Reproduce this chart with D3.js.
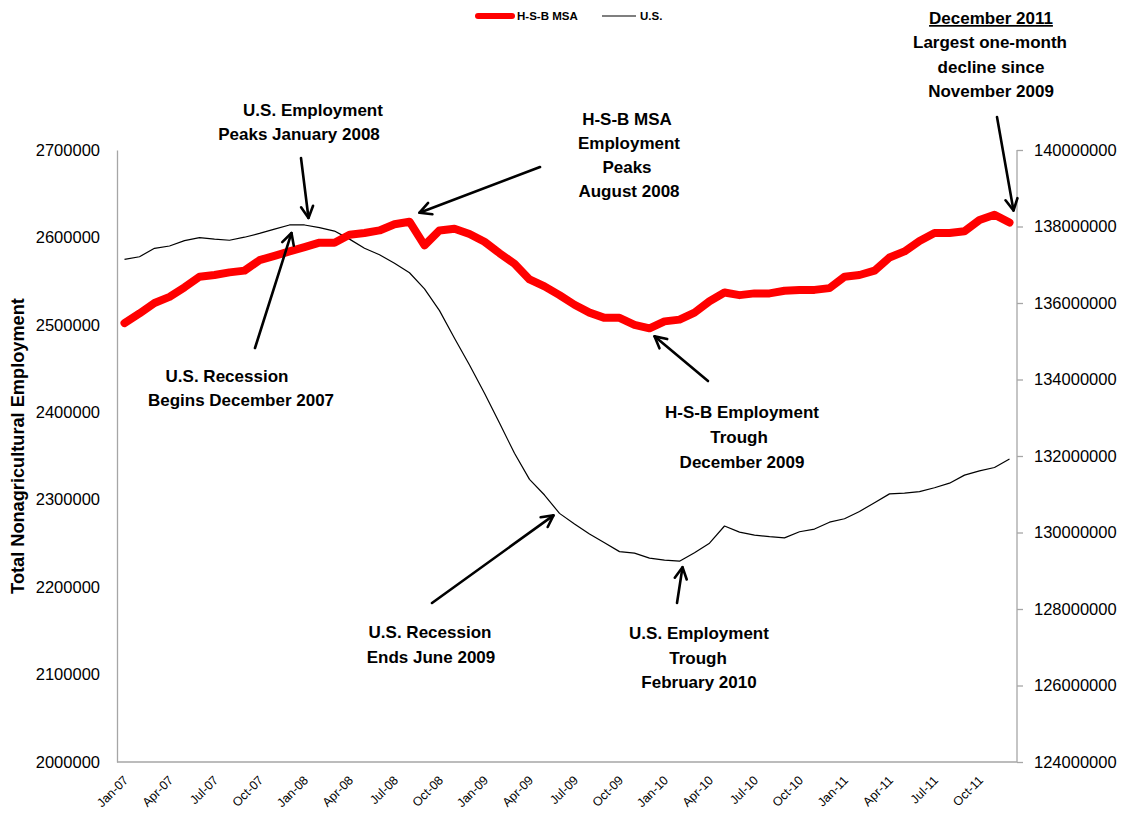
<!DOCTYPE html>
<html><head><meta charset="utf-8">
<script src="https://cdn.jsdelivr.net/npm/d3@7"></script>
<style>
html,body{margin:0;padding:0;background:#fff;}
svg{display:block;font-family:"Liberation Sans",Arial,sans-serif;}
</style></head>
<body>
<svg id="chart" width="1125" height="814"></svg>
<script>
const months = ["Jan-07","Feb-07","Mar-07","Apr-07","May-07","Jun-07","Jul-07","Aug-07","Sep-07","Oct-07","Nov-07","Dec-07",
"Jan-08","Feb-08","Mar-08","Apr-08","May-08","Jun-08","Jul-08","Aug-08","Sep-08","Oct-08","Nov-08","Dec-08",
"Jan-09","Feb-09","Mar-09","Apr-09","May-09","Jun-09","Jul-09","Aug-09","Sep-09","Oct-09","Nov-09","Dec-09",
"Jan-10","Feb-10","Mar-10","Apr-10","May-10","Jun-10","Jul-10","Aug-10","Sep-10","Oct-10","Nov-10","Dec-10",
"Jan-11","Feb-11","Mar-11","Apr-11","May-11","Jun-11","Jul-11","Aug-11","Sep-11","Oct-11","Nov-11","Dec-11"];

const hsbMSA = [2502000,2513000,2525000,2532000,2543000,2555000,2557000,2560000,2562000,2574000,2579000,2584000,
2589000,2594000,2594000,2603000,2605000,2608000,2615000,2618000,2591000,2608000,2610000,2604000,
2595000,2582000,2570000,2552000,2544000,2534000,2523000,2514000,2508000,2508000,2500000,2496000,
2504000,2506000,2514000,2527000,2537000,2534000,2536000,2536000,2539000,2540000,2540000,2542000,
2555000,2557000,2562000,2577000,2584000,2596000,2605000,2605000,2607000,2620000,2626000,2617000];

const usEmp = [137140000,137210000,137430000,137490000,137630000,137710000,137670000,137640000,137720000,137820000,137930000,138040000,
138040000,137970000,137880000,137670000,137430000,137260000,137040000,136790000,136370000,135800000,135080000,134380000,
133640000,132860000,132070000,131390000,130980000,130500000,130220000,129960000,129730000,129500000,129460000,129330000,
129280000,129250000,129470000,129720000,130170000,130010000,129930000,129890000,129860000,130020000,130090000,130270000,
130360000,130550000,130780000,131010000,131030000,131070000,131170000,131290000,131500000,131610000,131700000,131920000];

const leftTicks = [2000000,2100000,2200000,2300000,2400000,2500000,2600000,2700000];
const rightTicks = [124000000,126000000,128000000,130000000,132000000,134000000,136000000,138000000,140000000];
const xTickLabels = months.filter((m,i)=>i%3===0);

const seriesNames = ["H-S-B MSA","U.S."];
const yAxisTitle = "Total Nonagricultural Employment";

const annotations = [
  {lines:["U.S. Employment","Peaks January 2008"], cx:[313,299], y0:116, dy:24, month:"Jan-08", series:"us", tip:[4,-7], tail:[301,158]},
  {lines:["U.S. Recession","Begins December 2007"], cx:[227,241], y0:382, dy:24, month:"Dec-07", series:"us", tip:[2,8], tail:[255,348]},
  {lines:["H-S-B MSA","Employment","Peaks","August 2008"], cx:[627,629,627,629], y0:125, dy:24, month:"Aug-08", series:"hsb", tip:[10,-9], tail:[540,167]},
  {lines:["H-S-B Employment","Trough","December 2009"], cx:[742,739,742], y0:418, dy:25, month:"Dec-09", series:"hsb", tip:[5,8], tail:[708,381]},
  {lines:["U.S. Recession","Ends June 2009"], cx:[430,431], y0:638, dy:25, month:"Jun-09", series:"us", tip:[-6,2], tail:[432,603]},
  {lines:["U.S. Employment","Trough","February 2010"], cx:[699,698,699], y0:639, dy:24.5, month:"Feb-10", series:"us", tip:[3,6], tail:[677,603]},
  {lines:["December 2011","Largest one-month","decline since","November 2009"], cx:[991,990,991,991], y0:24, dy:24.4, month:"Dec-11", series:"hsb", tip:[4,-12], tail:[997,117], underlineFirst:true}
];

const svg = d3.select("#chart");
const L = 117, R = 1017, T = 150, B = 762;

const x = d3.scalePoint().domain(months).range([L, R]).padding(0.5);
const yL = d3.scaleLinear().domain([2000000, 2700000]).range([B, T]);
const yR = d3.scaleLinear().domain([124000000, 140000000]).range([B, T]);

const axisColor = "#a6a6a6";

const gL = svg.append("g").attr("transform", `translate(${L},0)`)
  .call(d3.axisLeft(yL).tickValues(leftTicks).tickSize(0).tickPadding(17).tickFormat(d3.format("d")));
gL.select(".domain").attr("stroke", axisColor).attr("stroke-width", 1.3);
gL.selectAll("text").attr("font-size", 16.5).attr("fill", "#000").attr("font-family", "Liberation Sans, Arial, sans-serif");

const gR = svg.append("g").attr("transform", `translate(${R},0)`)
  .call(d3.axisRight(yR).tickValues(rightTicks).tickSize(6).tickPadding(11).tickFormat(d3.format("d")));
gR.select(".domain").attr("stroke", axisColor).attr("stroke-width", 1.3).attr("d", `M0,${T}V${B}`);
gR.selectAll("line").attr("stroke", axisColor).attr("stroke-width", 1.3);
gR.selectAll("text").attr("font-size", 16.5).attr("fill", "#000").attr("font-family", "Liberation Sans, Arial, sans-serif");

const gB = svg.append("g").attr("transform", `translate(0,${B})`)
  .call(d3.axisBottom(x).tickValues(xTickLabels).tickSize(0).tickPadding(0));
gB.select(".domain").attr("stroke", axisColor).attr("stroke-width", 1.3).attr("d", `M${L},0H${R}`);
gB.selectAll("text")
  .attr("font-size", 12.5).attr("fill", "#000").attr("font-family", "Liberation Sans, Arial, sans-serif")
  .attr("text-anchor", "end").attr("dy", null).attr("y", null)
  .attr("transform", "translate(4,19) rotate(-45)");

svg.append("text")
  .attr("transform", `translate(24,${(T+B)/2 - 10}) rotate(-90)`)
  .attr("text-anchor", "middle")
  .attr("font-size", 18.2).attr("font-weight", "bold")
  .text(yAxisTitle);

const lineL = d3.line().x((d,i)=>x(months[i])).y(d=>yL(d));
const lineR = d3.line().x((d,i)=>x(months[i])).y(d=>yR(d));

svg.append("path").datum(usEmp)
  .attr("d", lineR).attr("fill", "none").attr("stroke", "#000").attr("stroke-width", 1.2)
  .attr("stroke-linejoin", "round");

svg.append("path").datum(hsbMSA)
  .attr("d", lineL).attr("fill", "none").attr("stroke", "#ff0000").attr("stroke-width", 8)
  .attr("stroke-linejoin", "round").attr("stroke-linecap", "round");

const leg = svg.append("g");
leg.append("line").attr("x1", 478).attr("x2", 512).attr("y1", 16).attr("y2", 16)
  .attr("stroke", "#ff0000").attr("stroke-width", 6).attr("stroke-linecap", "round");
leg.append("text").attr("x", 517).attr("y", 20).attr("font-size", 11.5).attr("font-weight", "bold").text(seriesNames[0]);
leg.append("line").attr("x1", 602).attr("x2", 636).attr("y1", 16).attr("y2", 16)
  .attr("stroke", "#000").attr("stroke-width", 1.2);
leg.append("text").attr("x", 640).attr("y", 20).attr("font-size", 11.5).attr("font-weight", "bold").text(seriesNames[1]);

function arrow(x1, y1, x2, y2) {
  const g = svg.append("g").attr("stroke", "#000").attr("stroke-width", 2.6).attr("fill", "none")
    .attr("stroke-linecap", "round").attr("stroke-linejoin", "round");
  g.append("line").attr("x1", x1).attr("y1", y1).attr("x2", x2).attr("y2", y2);
  const ang = Math.atan2(y2 - y1, x2 - x1);
  const len = 13, spread = Math.PI / 6.5;
  const p1 = [x2 - len * Math.cos(ang - spread), y2 - len * Math.sin(ang - spread)];
  const p2 = [x2 - len * Math.cos(ang + spread), y2 - len * Math.sin(ang + spread)];
  g.append("path").attr("d", `M${p1[0]},${p1[1]}L${x2},${y2}L${p2[0]},${p2[1]}`);
}

annotations.forEach(a => {
  const i = months.indexOf(a.month);
  const px = x(a.month);
  const py = a.series === "hsb" ? yL(hsbMSA[i]) : yR(usEmp[i]);
  arrow(a.tail[0], a.tail[1], px + a.tip[0], py + a.tip[1]);
  a.lines.forEach((ln, k) => {
    const t = svg.append("text")
      .attr("x", a.cx[k]).attr("y", a.y0 + k * a.dy)
      .attr("text-anchor", "middle").attr("font-size", 17).attr("font-weight", "bold")
      .attr("fill", "#000")
      .text(ln);
    if (k === 0 && a.underlineFirst) t.attr("text-decoration", "underline");
  });
});
</script>
</body></html>
